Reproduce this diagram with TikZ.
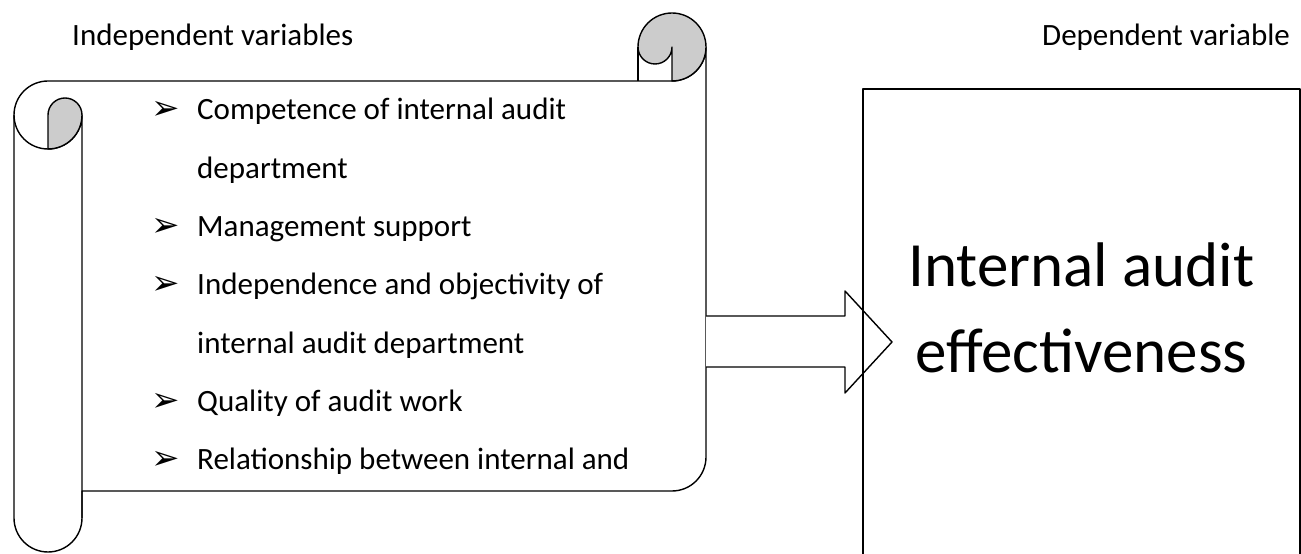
\documentclass[tikz,border=0pt]{standalone}
\usepackage{fontspec}
\setmainfont{Carlito}
\newfontfamily\symfont{DejaVu Sans}
\usepackage{tikz}
\usetikzlibrary{positioning,calc}

\begin{document}
\begin{tikzpicture}[x=1pt, y=1pt, line join=round]
    \tikzstyle{outline}=[draw=black, line width=1.4pt]
    \tikzstyle{curl}=[outline, fill=black!20]
    \tikzstyle{heading}=[font=\fontsize{31}{37}\selectfont, anchor=base west, inner sep=0pt]
    \tikzstyle{item}=[font=\fontsize{31}{37}\selectfont, anchor=base west, inner sep=0pt]
    \tikzstyle{bulletmark}=[font=\symfont\fontsize{34}{40}\selectfont, anchor=base west, inner sep=0pt]
    \useasboundingbox (0,0) rectangle (1301,554);
    % scroll with the independent variables
    \path[outline, fill=white] (48,473) -- (672,473) arc[start angle=-90, end angle=0, radius=34]
        -- (706,97) arc[start angle=0, end angle=-90, radius=34] -- (82,63)
        -- (82,36) arc[start angle=0, end angle=-180, radius=34] -- (14,439)
        arc[start angle=180, end angle=90, radius=34] -- cycle;
    \draw[outline] (14,439) arc[start angle=180, end angle=360, radius=34] -- (82,36);
    \path[curl] (48,439) arc[start angle=180, end angle=0, radius=17]
        arc[start angle=0, end angle=-90, radius=34] -- cycle;
    \path[curl] (672,473) arc[start angle=-90, end angle=180, radius=34]
        arc[start angle=180, end angle=360, radius=17] -- cycle;
    \draw[outline] (638,507) -- (638,473);
    % block arrow
    \path[outline, fill=white] (706,238) -- (845,238) -- (845,263) -- (892,212)
        -- (845,161) -- (845,187) -- (706,187);
    % dependent variable box
    \node[outline, line width=1.8pt, minimum width=437pt, minimum height=475pt, inner sep=0pt]
        (dep) at (1081.5,227.5) {};
    \node[font=\fontsize{63}{86}\selectfont, align=center, anchor=base, inner sep=0pt]
        (effect) at (1081.5,181) {Internal audit\\effectiveness};
    % headings
    \node[heading] (indep) at (72,508) {Independent variables};
    \node[heading, anchor=base east] (depvar) at (1290,508) {Dependent variable};
    % list of variables
    \node[bulletmark] (m1) at (151,434) {➢};
    \node[item] (i1) at (197,434) {Competence of internal audit};
    \node[item] (i1b) at (197,375.5) {department};
    \node[bulletmark] (m2) at (151,317) {➢};
    \node[item] (i2) at (197,317) {Management support};
    \node[bulletmark] (m3) at (151,259) {➢};
    \node[item] (i3) at (197,259) {Independence and objectivity of};
    \node[item] (i3b) at (197,200.5) {internal audit department};
    \node[bulletmark] (m4) at (151,142) {➢};
    \node[item] (i4) at (197,142) {Quality of audit work};
    \node[bulletmark] (m5) at (151,84) {➢};
    \node[item] (i5) at (197,84) {Relationship between internal and};
\end{tikzpicture}
\end{document}
